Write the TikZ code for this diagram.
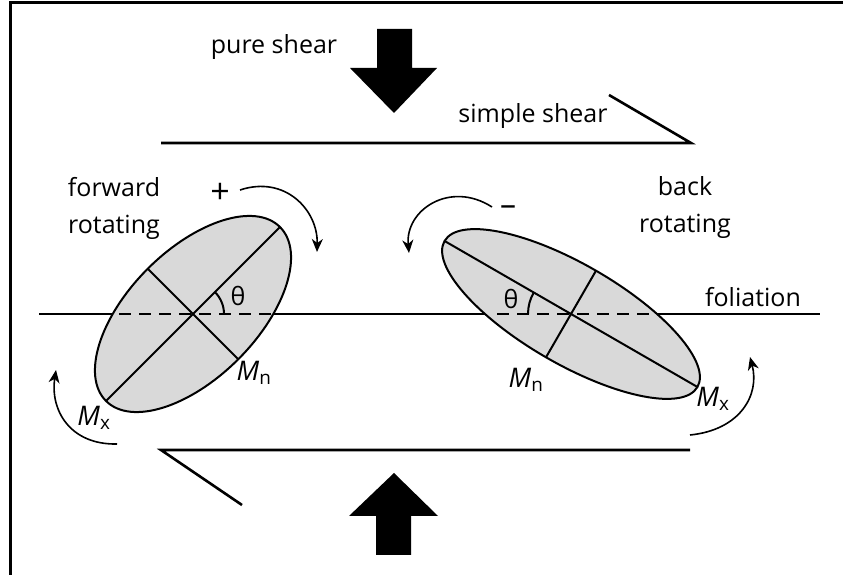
\documentclass[tikz,border=0pt]{standalone}
\usepackage{fontspec}
\setmainfont{Open Sans}
\usetikzlibrary{arrows.meta}

\begin{document}
\begin{tikzpicture}[x=1pt, y=1pt, >={Stealth[length=13pt,width=11pt,inset=4pt]},
    shear line/.style={line width=2.6pt},
    axis line/.style={line width=2pt},
    dashed line/.style={line width=2pt, dash pattern=on 12pt off 8pt},
    turn arrow/.style={line width=1.6pt, ->},
    grain/.style={draw, fill=black!15, line width=2pt},
    lbl/.style={font=\fontsize{25}{37}\selectfont, inner sep=0pt, align=center},
    axis lbl/.style={font=\fontsize{27}{30}\selectfont, inner sep=0pt}]
  \useasboundingbox (0,0) rectangle (843,575);
  % Rahmen
  \draw [line width=3pt] (10,0) -- (10,572) -- (843,572);
  % pure shear
  \fill (377,546) -- (412,546) -- (412,507) -- (437,507) -- (394,462) -- (350,507) -- (377,507) -- cycle;
  \fill (376,20) -- (411,20) -- (411,59) -- (438,59) -- (394,102) -- (349,59) -- (376,59) -- cycle;
  % simple shear
  \draw [shear line] (161,432) -- (691,432) -- (609,480);
  \draw [shear line] (242,70) -- (161,125) -- (690,125);
  % foliation
  \draw [axis line] (39,261) -- (820,261);
  % forward rotating grain
  \draw [grain, shift={(193,261)}, rotate=45] (0,0) ellipse [x radius=123, y radius=64];
  \begin{scope}
    \clip [shift={(193,261)}, rotate=45] (0,0) ellipse [x radius=123, y radius=64];
    \draw [dashed line] (39,261) -- (400,261);
  \end{scope}
  \draw [axis line, shift={(193,261)}, rotate=45] (-123,0) -- (123,0) (0,-64) -- (0,64);
  \draw [axis line] (224,261) arc[start angle=0, end angle=45, radius=31];
  % back rotating grain
  \draw [grain, shift={(571,261)}, rotate=-30] (0,0) ellipse [x radius=146, y radius=50];
  \begin{scope}
    \clip [shift={(571,261)}, rotate=-30] (0,0) ellipse [x radius=146, y radius=50];
    \draw [dashed line] (497,261) -- (820,261);
  \end{scope}
  \draw [axis line, shift={(571,261)}, rotate=-30] (-146,0) -- (146,0) (0,-50) -- (0,50);
  \draw [axis line] (528,261) arc[start angle=180, end angle=150, radius=43];
  % Drehpfeile
  \draw [turn arrow] (240,385) .. controls (285,400) and (318,365) .. (317,323);
  \draw [turn arrow] (117,131) .. controls (70,130) and (50,165) .. (56,205);
  \draw [turn arrow] (492,368) .. controls (450,395) and (405,365) .. (409,322);
  \draw [turn arrow] (690,140) .. controls (740,145) and (760,180) .. (750,218);
  % Beschriftung
  \node [lbl] (pure) at (274,528) {pure shear};
  \node [lbl] (simple) at (533,459) {simple shear};
  \node [lbl] (forward) at (114,367) {forward\\rotating};
  \node [lbl] (back) at (685,367) {back\\rotating};
  \node [lbl] (foliation) at (753,278) {foliation};
  \node [lbl, font=\fontsize{34}{34}\selectfont] (plus) at (220,382) {+};
  \node [lbl, font=\fontsize{32}{32}\selectfont] (minus) at (508,364) {–};
  \node [lbl] (thetaL) at (238,279) {θ};
  \node [lbl] (thetaR) at (511,276) {θ};
  \node [axis lbl] (mnL) at (254,202) {\textit{M}\textsubscript{n}};
  \node [axis lbl] (mxL) at (94,157) {\textit{M}\textsubscript{x}};
  \node [axis lbl] (mnR) at (526,195) {\textit{M}\textsubscript{n}};
  \node [axis lbl] (mxR) at (713,176) {\textit{M}\textsubscript{x}};
\end{tikzpicture}
\end{document}
